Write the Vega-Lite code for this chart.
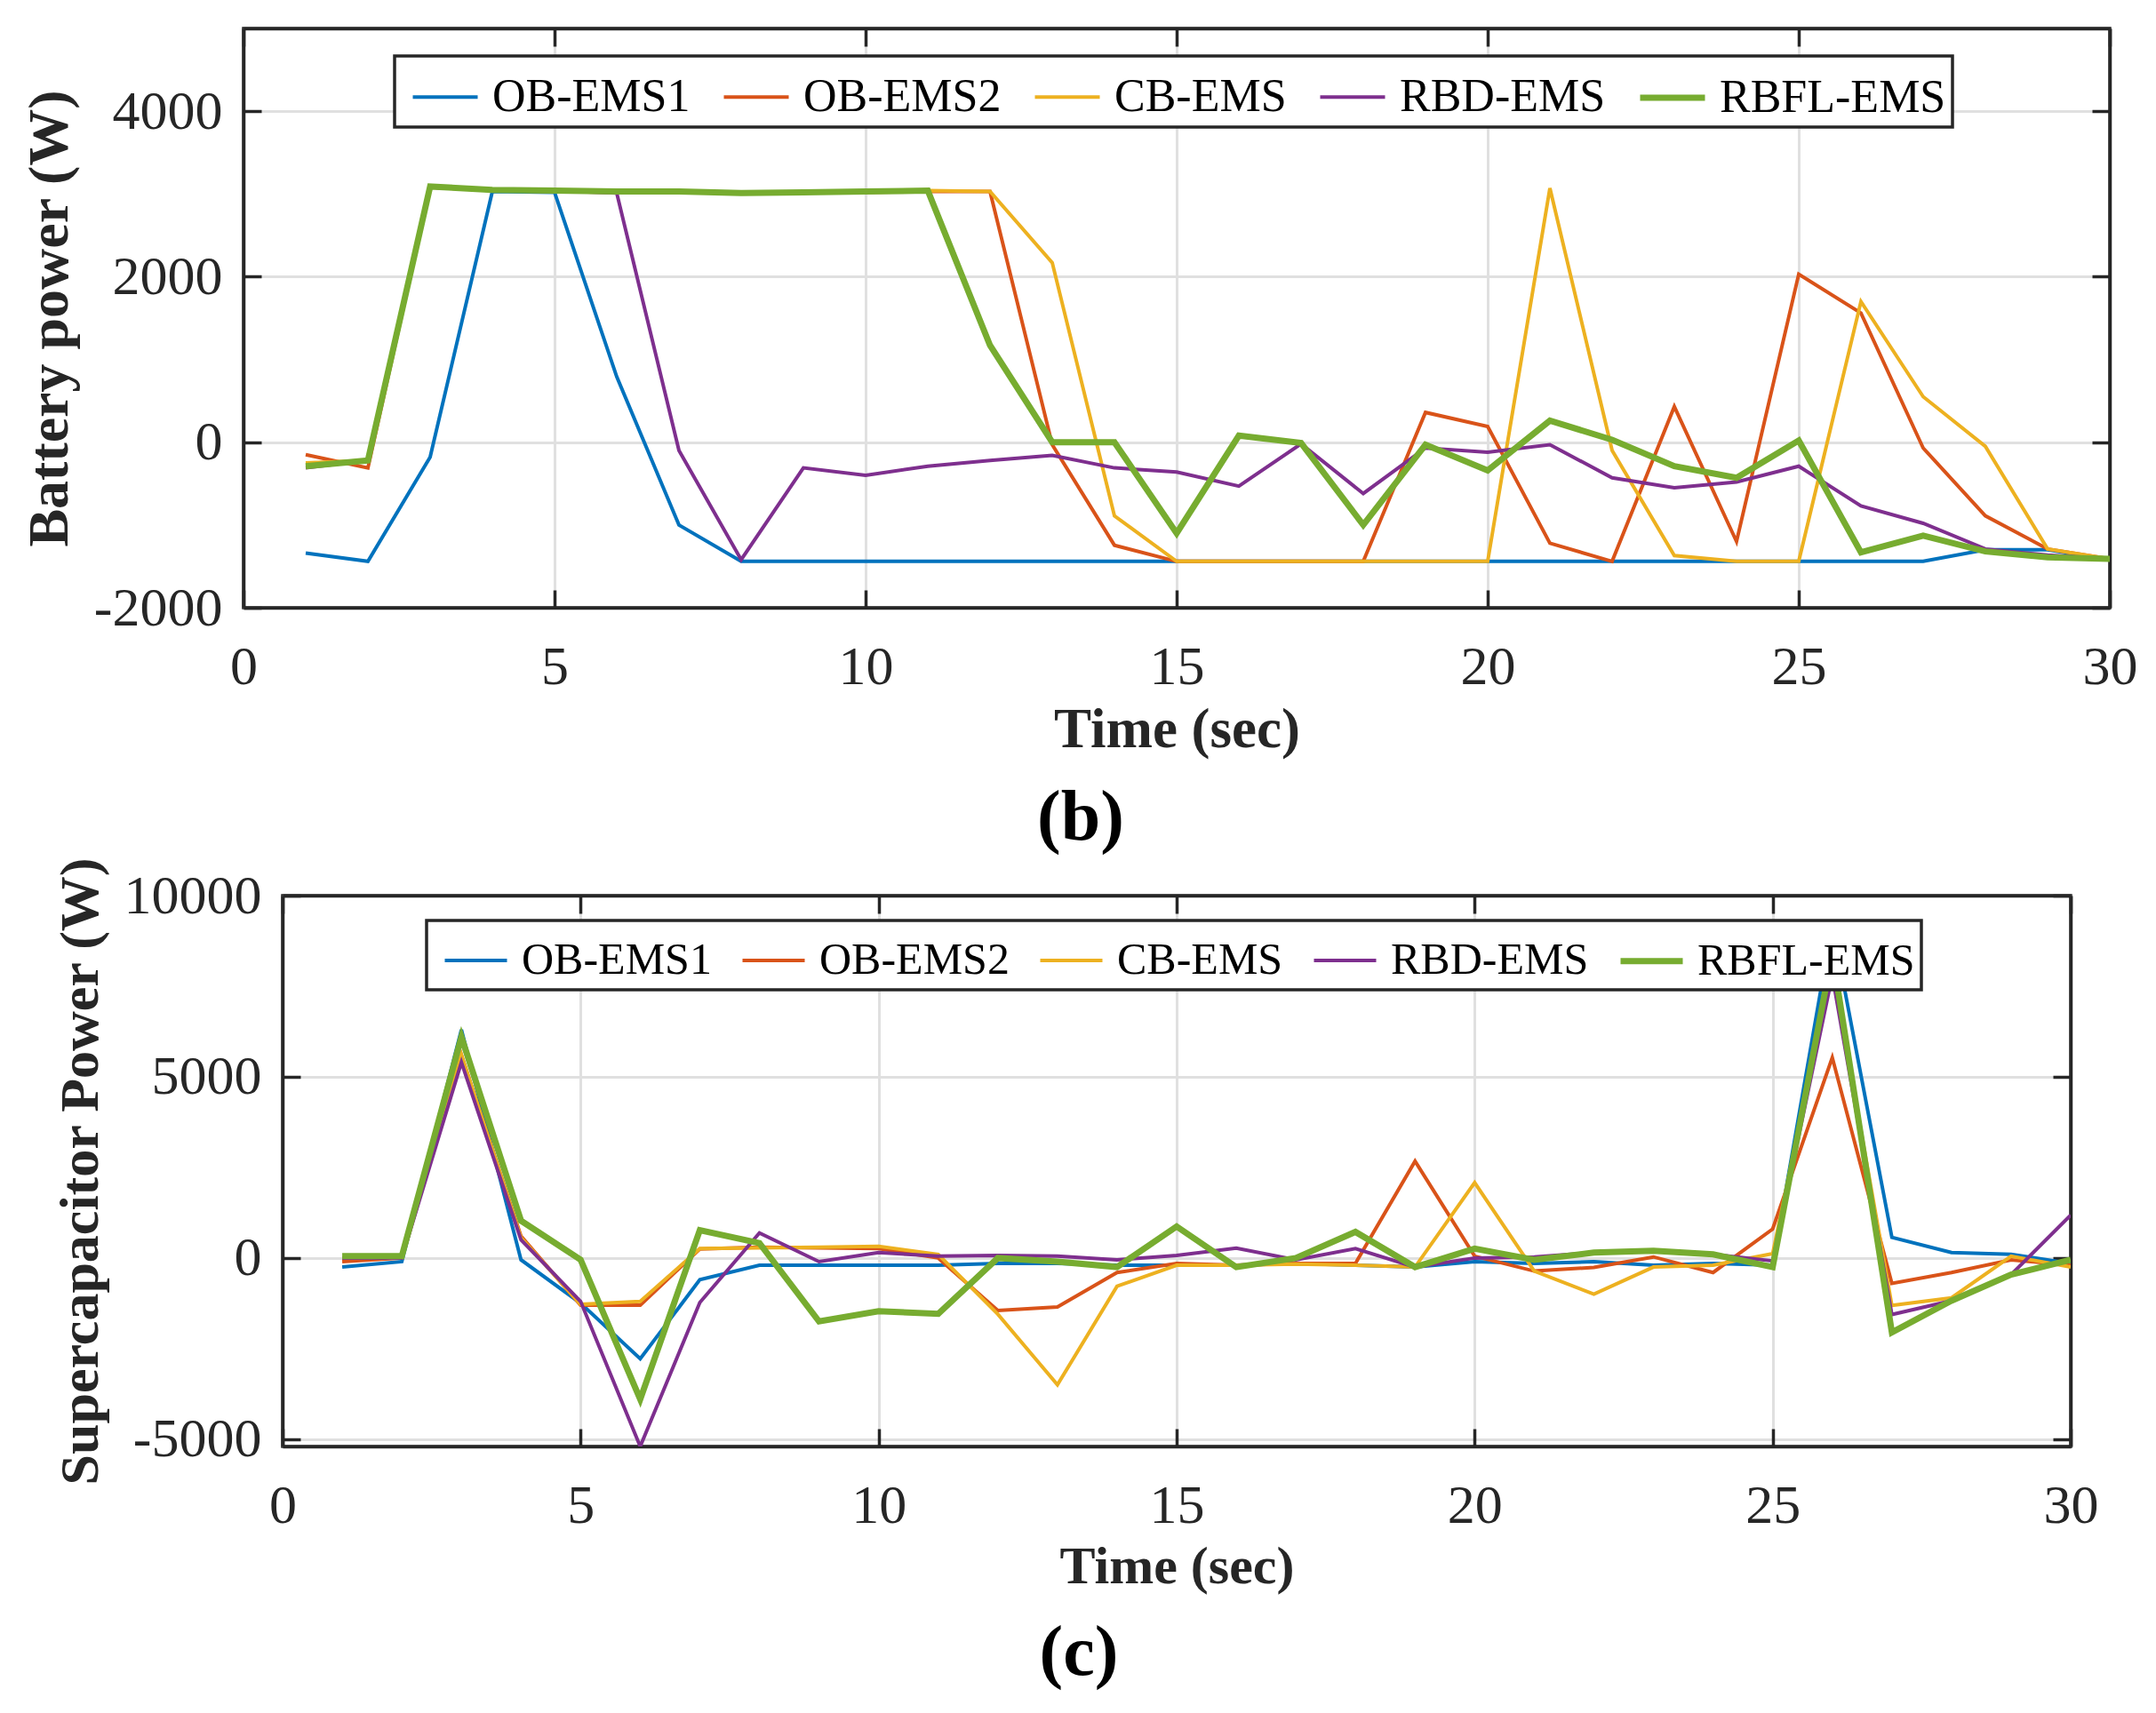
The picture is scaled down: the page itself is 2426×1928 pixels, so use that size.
{
  "$schema": "https://vega.github.io/schema/vega-lite/v6.json",
  "background": "white",
  "padding": {"left": 22, "top": 28, "right": 20, "bottom": 20},
  "config": {
    "font": "Liberation Serif",
    "view": {"stroke": "#262626", "strokeWidth": 3.5},
    "axis": {
      "domainColor": "#262626", "domainWidth": 3.5,
      "tickColor": "#262626", "tickWidth": 3.5, "tickSize": -20,
      "labelFont": "Liberation Serif", "labelFontSize": 62, "labelColor": "#262626",
      "labelOverlap": false, "labelFlush": false,
      "titleFont": "Liberation Serif", "titleFontWeight": "bold", "titleColor": "#262626",
      "gridColor": "#e0e0e0", "gridWidth": 3
    },
    "axisX": {"labelPadding": 56, "titlePadding": 9, "titleFontSize": 63, "labelFont": "Liberation Serif"},
    "axisY": {"labelPadding": 44, "titlePadding": 17, "labelFont": "Liberation Serif"},
    "legend": {
      "orient": "none", "direction": "horizontal", "columns": 5, "title": null,
      "labelFont": "Liberation Serif", "labelColor": "black", "labelLimit": 0,
      "symbolType": "stroke", "symbolSize": 5329, "symbolStrokeWidth": 4,
      "labelOffset": 13, "columnPadding": 24, "padding": 7, "symbolOffset": 10,
      "strokeColor": "#262626", "fillColor": "white", "zindex": 1
    }
  },
  "bounds": "flush",
  "center": true,
  "spacing": 324,
  "resolve": {"legend": {"color": "independent", "strokeWidth": "independent"}},
  "datasets": {
    "battery": [
      {"t":1,"s":"OB-EMS1","p":-1340},{"t":2,"s":"OB-EMS1","p":-1440},{"t":3,"s":"OB-EMS1","p":-180},{"t":4,"s":"OB-EMS1","p":3030},{"t":5,"s":"OB-EMS1","p":3020},
      {"t":6,"s":"OB-EMS1","p":790},{"t":7,"s":"OB-EMS1","p":-1000},{"t":8,"s":"OB-EMS1","p":-1440},{"t":9,"s":"OB-EMS1","p":-1440},{"t":10,"s":"OB-EMS1","p":-1440},
      {"t":11,"s":"OB-EMS1","p":-1440},{"t":12,"s":"OB-EMS1","p":-1440},{"t":13,"s":"OB-EMS1","p":-1440},{"t":14,"s":"OB-EMS1","p":-1440},{"t":15,"s":"OB-EMS1","p":-1440},
      {"t":16,"s":"OB-EMS1","p":-1440},{"t":17,"s":"OB-EMS1","p":-1440},{"t":18,"s":"OB-EMS1","p":-1440},{"t":19,"s":"OB-EMS1","p":-1440},{"t":20,"s":"OB-EMS1","p":-1440},
      {"t":21,"s":"OB-EMS1","p":-1440},{"t":22,"s":"OB-EMS1","p":-1440},{"t":23,"s":"OB-EMS1","p":-1440},{"t":24,"s":"OB-EMS1","p":-1440},{"t":25,"s":"OB-EMS1","p":-1440},
      {"t":26,"s":"OB-EMS1","p":-1440},{"t":27,"s":"OB-EMS1","p":-1440},{"t":28,"s":"OB-EMS1","p":-1300},{"t":29,"s":"OB-EMS1","p":-1300},{"t":30,"s":"OB-EMS1","p":-1420},

      {"t":1,"s":"OB-EMS2","p":-150},{"t":2,"s":"OB-EMS2","p":-310},{"t":3,"s":"OB-EMS2","p":3080},{"t":4,"s":"OB-EMS2","p":3040},{"t":5,"s":"OB-EMS2","p":3030},
      {"t":6,"s":"OB-EMS2","p":3020},{"t":7,"s":"OB-EMS2","p":3020},{"t":8,"s":"OB-EMS2","p":3010},{"t":9,"s":"OB-EMS2","p":3020},{"t":10,"s":"OB-EMS2","p":3020},
      {"t":11,"s":"OB-EMS2","p":3030},{"t":12,"s":"OB-EMS2","p":3030},{"t":13,"s":"OB-EMS2","p":-30},{"t":14,"s":"OB-EMS2","p":-1245},{"t":15,"s":"OB-EMS2","p":-1440},
      {"t":16,"s":"OB-EMS2","p":-1440},{"t":17,"s":"OB-EMS2","p":-1440},{"t":18,"s":"OB-EMS2","p":-1440},{"t":19,"s":"OB-EMS2","p":360},{"t":20,"s":"OB-EMS2","p":190},
      {"t":21,"s":"OB-EMS2","p":-1220},{"t":22,"s":"OB-EMS2","p":-1440},{"t":23,"s":"OB-EMS2","p":430},{"t":24,"s":"OB-EMS2","p":-1200},{"t":25,"s":"OB-EMS2","p":2030},
      {"t":26,"s":"OB-EMS2","p":1560},{"t":27,"s":"OB-EMS2","p":-70},{"t":28,"s":"OB-EMS2","p":-890},{"t":29,"s":"OB-EMS2","p":-1290},{"t":30,"s":"OB-EMS2","p":-1410},

      {"t":1,"s":"CB-EMS","p":-250},{"t":2,"s":"CB-EMS","p":-220},{"t":3,"s":"CB-EMS","p":3080},{"t":4,"s":"CB-EMS","p":3050},{"t":5,"s":"CB-EMS","p":3040},
      {"t":6,"s":"CB-EMS","p":3020},{"t":7,"s":"CB-EMS","p":3020},{"t":8,"s":"CB-EMS","p":3010},{"t":9,"s":"CB-EMS","p":3020},{"t":10,"s":"CB-EMS","p":3030},
      {"t":11,"s":"CB-EMS","p":3040},{"t":12,"s":"CB-EMS","p":3030},{"t":13,"s":"CB-EMS","p":2170},{"t":14,"s":"CB-EMS","p":-890},{"t":15,"s":"CB-EMS","p":-1440},
      {"t":16,"s":"CB-EMS","p":-1440},{"t":17,"s":"CB-EMS","p":-1440},{"t":18,"s":"CB-EMS","p":-1440},{"t":19,"s":"CB-EMS","p":-1440},{"t":20,"s":"CB-EMS","p":-1440},
      {"t":21,"s":"CB-EMS","p":3070},{"t":22,"s":"CB-EMS","p":-100},{"t":23,"s":"CB-EMS","p":-1370},{"t":24,"s":"CB-EMS","p":-1440},{"t":25,"s":"CB-EMS","p":-1440},
      {"t":26,"s":"CB-EMS","p":1700},{"t":27,"s":"CB-EMS","p":550},{"t":28,"s":"CB-EMS","p":-50},{"t":29,"s":"CB-EMS","p":-1290},{"t":30,"s":"CB-EMS","p":-1410},

      {"t":1,"s":"RBD-EMS","p":-310},{"t":2,"s":"RBD-EMS","p":-220},{"t":3,"s":"RBD-EMS","p":3080},{"t":4,"s":"RBD-EMS","p":3050},{"t":5,"s":"RBD-EMS","p":3040},
      {"t":6,"s":"RBD-EMS","p":3010},{"t":7,"s":"RBD-EMS","p":-100},{"t":8,"s":"RBD-EMS","p":-1420},{"t":9,"s":"RBD-EMS","p":-310},{"t":10,"s":"RBD-EMS","p":-400},
      {"t":11,"s":"RBD-EMS","p":-290},{"t":12,"s":"RBD-EMS","p":-220},{"t":13,"s":"RBD-EMS","p":-160},{"t":14,"s":"RBD-EMS","p":-310},{"t":15,"s":"RBD-EMS","p":-360},
      {"t":16,"s":"RBD-EMS","p":-530},{"t":17,"s":"RBD-EMS","p":-20},{"t":18,"s":"RBD-EMS","p":-620},{"t":19,"s":"RBD-EMS","p":-70},{"t":20,"s":"RBD-EMS","p":-120},
      {"t":21,"s":"RBD-EMS","p":-30},{"t":22,"s":"RBD-EMS","p":-430},{"t":23,"s":"RBD-EMS","p":-550},{"t":24,"s":"RBD-EMS","p":-480},{"t":25,"s":"RBD-EMS","p":-290},
      {"t":26,"s":"RBD-EMS","p":-770},{"t":27,"s":"RBD-EMS","p":-980},{"t":28,"s":"RBD-EMS","p":-1290},{"t":29,"s":"RBD-EMS","p":-1365},{"t":30,"s":"RBD-EMS","p":-1410},

      {"t":1,"s":"RBFL-EMS","p":-290},{"t":2,"s":"RBFL-EMS","p":-220},{"t":3,"s":"RBFL-EMS","p":3090},{"t":4,"s":"RBFL-EMS","p":3050},{"t":5,"s":"RBFL-EMS","p":3040},
      {"t":6,"s":"RBFL-EMS","p":3030},{"t":7,"s":"RBFL-EMS","p":3030},{"t":8,"s":"RBFL-EMS","p":3010},{"t":9,"s":"RBFL-EMS","p":3020},{"t":10,"s":"RBFL-EMS","p":3030},
      {"t":11,"s":"RBFL-EMS","p":3040},{"t":12,"s":"RBFL-EMS","p":1170},{"t":13,"s":"RBFL-EMS","p":0},{"t":14,"s":"RBFL-EMS","p":0},{"t":15,"s":"RBFL-EMS","p":-1100},
      {"t":16,"s":"RBFL-EMS","p":80},{"t":17,"s":"RBFL-EMS","p":-10},{"t":18,"s":"RBFL-EMS","p":-1000},{"t":19,"s":"RBFL-EMS","p":-30},{"t":20,"s":"RBFL-EMS","p":-340},
      {"t":21,"s":"RBFL-EMS","p":260},{"t":22,"s":"RBFL-EMS","p":30},{"t":23,"s":"RBFL-EMS","p":-290},{"t":24,"s":"RBFL-EMS","p":-430},{"t":25,"s":"RBFL-EMS","p":20},
      {"t":26,"s":"RBFL-EMS","p":-1330},{"t":27,"s":"RBFL-EMS","p":-1130},{"t":28,"s":"RBFL-EMS","p":-1320},{"t":29,"s":"RBFL-EMS","p":-1390},{"t":30,"s":"RBFL-EMS","p":-1410}
    ],
    "supercap": [
      {"t":1,"s":"OB-EMS1","p":-250},{"t":2,"s":"OB-EMS1","p":-100},{"t":3,"s":"OB-EMS1","p":6300},{"t":4,"s":"OB-EMS1","p":-50},{"t":5,"s":"OB-EMS1","p":-1250},
      {"t":6,"s":"OB-EMS1","p":-2780},{"t":7,"s":"OB-EMS1","p":-600},{"t":8,"s":"OB-EMS1","p":-200},{"t":9,"s":"OB-EMS1","p":-200},{"t":10,"s":"OB-EMS1","p":-200},
      {"t":11,"s":"OB-EMS1","p":-200},{"t":12,"s":"OB-EMS1","p":-150},{"t":13,"s":"OB-EMS1","p":-150},{"t":14,"s":"OB-EMS1","p":-200},{"t":15,"s":"OB-EMS1","p":-200},
      {"t":16,"s":"OB-EMS1","p":-200},{"t":17,"s":"OB-EMS1","p":-150},{"t":18,"s":"OB-EMS1","p":-200},{"t":19,"s":"OB-EMS1","p":-250},{"t":20,"s":"OB-EMS1","p":-100},
      {"t":21,"s":"OB-EMS1","p":-150},{"t":22,"s":"OB-EMS1","p":-100},{"t":23,"s":"OB-EMS1","p":-200},{"t":24,"s":"OB-EMS1","p":-150},{"t":25,"s":"OB-EMS1","p":-200},
      {"t":26,"s":"OB-EMS1","p":9200},{"t":27,"s":"OB-EMS1","p":570},{"t":28,"s":"OB-EMS1","p":150},{"t":29,"s":"OB-EMS1","p":100},{"t":30,"s":"OB-EMS1","p":-150},

      {"t":1,"s":"OB-EMS2","p":-100},{"t":2,"s":"OB-EMS2","p":0},{"t":3,"s":"OB-EMS2","p":5600},{"t":4,"s":"OB-EMS2","p":600},{"t":5,"s":"OB-EMS2","p":-1300},
      {"t":6,"s":"OB-EMS2","p":-1300},{"t":7,"s":"OB-EMS2","p":250},{"t":8,"s":"OB-EMS2","p":300},{"t":9,"s":"OB-EMS2","p":280},{"t":10,"s":"OB-EMS2","p":260},
      {"t":11,"s":"OB-EMS2","p":0},{"t":12,"s":"OB-EMS2","p":-1450},{"t":13,"s":"OB-EMS2","p":-1350},{"t":14,"s":"OB-EMS2","p":-400},{"t":15,"s":"OB-EMS2","p":-150},
      {"t":16,"s":"OB-EMS2","p":-200},{"t":17,"s":"OB-EMS2","p":-150},{"t":18,"s":"OB-EMS2","p":-150},{"t":19,"s":"OB-EMS2","p":2670},{"t":20,"s":"OB-EMS2","p":50},
      {"t":21,"s":"OB-EMS2","p":-360},{"t":22,"s":"OB-EMS2","p":-260},{"t":23,"s":"OB-EMS2","p":30},{"t":24,"s":"OB-EMS2","p":-400},{"t":25,"s":"OB-EMS2","p":800},
      {"t":26,"s":"OB-EMS2","p":5530},{"t":27,"s":"OB-EMS2","p":-700},{"t":28,"s":"OB-EMS2","p":-400},{"t":29,"s":"OB-EMS2","p":-50},{"t":30,"s":"OB-EMS2","p":-200},

      {"t":1,"s":"CB-EMS","p":0},{"t":2,"s":"CB-EMS","p":0},{"t":3,"s":"CB-EMS","p":5600},{"t":4,"s":"CB-EMS","p":560},{"t":5,"s":"CB-EMS","p":-1280},
      {"t":6,"s":"CB-EMS","p":-1200},{"t":7,"s":"CB-EMS","p":260},{"t":8,"s":"CB-EMS","p":280},{"t":9,"s":"CB-EMS","p":300},{"t":10,"s":"CB-EMS","p":320},
      {"t":11,"s":"CB-EMS","p":100},{"t":12,"s":"CB-EMS","p":-1550},{"t":13,"s":"CB-EMS","p":-3500},{"t":14,"s":"CB-EMS","p":-780},{"t":15,"s":"CB-EMS","p":-200},
      {"t":16,"s":"CB-EMS","p":-200},{"t":17,"s":"CB-EMS","p":-170},{"t":18,"s":"CB-EMS","p":-200},{"t":19,"s":"CB-EMS","p":-250},{"t":20,"s":"CB-EMS","p":2080},
      {"t":21,"s":"CB-EMS","p":-360},{"t":22,"s":"CB-EMS","p":-1000},{"t":23,"s":"CB-EMS","p":-250},{"t":24,"s":"CB-EMS","p":-200},{"t":25,"s":"CB-EMS","p":120},
      {"t":26,"s":"CB-EMS","p":8000},{"t":27,"s":"CB-EMS","p":-1310},{"t":28,"s":"CB-EMS","p":-1100},{"t":29,"s":"CB-EMS","p":50},{"t":30,"s":"CB-EMS","p":-250},

      {"t":1,"s":"RBD-EMS","p":0},{"t":2,"s":"RBD-EMS","p":0},{"t":3,"s":"RBD-EMS","p":5400},{"t":4,"s":"RBD-EMS","p":500},{"t":5,"s":"RBD-EMS","p":-1200},
      {"t":6,"s":"RBD-EMS","p":-5200},{"t":7,"s":"RBD-EMS","p":-1230},{"t":8,"s":"RBD-EMS","p":690},{"t":9,"s":"RBD-EMS","p":-100},{"t":10,"s":"RBD-EMS","p":150},
      {"t":11,"s":"RBD-EMS","p":50},{"t":12,"s":"RBD-EMS","p":70},{"t":13,"s":"RBD-EMS","p":50},{"t":14,"s":"RBD-EMS","p":-50},{"t":15,"s":"RBD-EMS","p":70},
      {"t":16,"s":"RBD-EMS","p":270},{"t":17,"s":"RBD-EMS","p":-50},{"t":18,"s":"RBD-EMS","p":260},{"t":19,"s":"RBD-EMS","p":-250},{"t":20,"s":"RBD-EMS","p":0},
      {"t":21,"s":"RBD-EMS","p":30},{"t":22,"s":"RBD-EMS","p":150},{"t":23,"s":"RBD-EMS","p":200},{"t":24,"s":"RBD-EMS","p":100},{"t":25,"s":"RBD-EMS","p":-80},
      {"t":26,"s":"RBD-EMS","p":7800},{"t":27,"s":"RBD-EMS","p":-1560},{"t":28,"s":"RBD-EMS","p":-1180},{"t":29,"s":"RBD-EMS","p":-460},{"t":30,"s":"RBD-EMS","p":1180},

      {"t":1,"s":"RBFL-EMS","p":50},{"t":2,"s":"RBFL-EMS","p":50},{"t":3,"s":"RBFL-EMS","p":6100},{"t":4,"s":"RBFL-EMS","p":1030},{"t":5,"s":"RBFL-EMS","p":-50},
      {"t":6,"s":"RBFL-EMS","p":-3900},{"t":7,"s":"RBFL-EMS","p":770},{"t":8,"s":"RBFL-EMS","p":410},{"t":9,"s":"RBFL-EMS","p":-1750},{"t":10,"s":"RBFL-EMS","p":-1470},
      {"t":11,"s":"RBFL-EMS","p":-1540},{"t":12,"s":"RBFL-EMS","p":0},{"t":13,"s":"RBFL-EMS","p":-100},{"t":14,"s":"RBFL-EMS","p":-250},{"t":15,"s":"RBFL-EMS","p":870},
      {"t":16,"s":"RBFL-EMS","p":-250},{"t":17,"s":"RBFL-EMS","p":0},{"t":18,"s":"RBFL-EMS","p":720},{"t":19,"s":"RBFL-EMS","p":-250},{"t":20,"s":"RBFL-EMS","p":260},
      {"t":21,"s":"RBFL-EMS","p":-50},{"t":22,"s":"RBFL-EMS","p":150},{"t":23,"s":"RBFL-EMS","p":200},{"t":24,"s":"RBFL-EMS","p":100},{"t":25,"s":"RBFL-EMS","p":-250},
      {"t":26,"s":"RBFL-EMS","p":8400},{"t":27,"s":"RBFL-EMS","p":-2050},{"t":28,"s":"RBFL-EMS","p":-1180},{"t":29,"s":"RBFL-EMS","p":-460},{"t":30,"s":"RBFL-EMS","p":-50}
    ]
  },
  "vconcat": [
    {
      "width": 2100,
      "height": 652,
      "data": {"name": "battery"},
      "title": {"text": "(b)", "orient": "bottom", "anchor": "middle", "baseline": "top", "offset": 29, "dx": -108, "font": "Liberation Serif", "fontSize": 80, "fontWeight": "bold", "color": "black"},
      "layer": [
        {
          "mark": {"type": "line", "clip": true},
          "encoding": {
            "x": {"field": "t", "type": "quantitative", "scale": {"domain": [0, 30], "nice": false},
                  "axis": {"values": [0, 5, 10, 15, 20, 25, 30], "title": "Time (sec)", "grid": true, "labelFont": "Liberation Serif"}},
            "y": {"field": "p", "type": "quantitative", "scale": {"domain": [-2000, 5000], "nice": false, "zero": false},
                  "axis": {"values": [-2000, 0, 2000, 4000], "title": "Battery power (W)", "titleFontSize": 64, "grid": true, "labelFont": "Liberation Serif",
                           "labelExpr": "datum.value < 0 ? '-' + format(-datum.value, 'd') : format(datum.value, 'd')"}},
            "color": {"field": "s", "type": "nominal",
                      "scale": {"domain": ["OB-EMS1", "OB-EMS2", "CB-EMS", "RBD-EMS", "RBFL-EMS"], "range": ["#0072BD", "#D95319", "#EDB120", "#7E2F8E", "#77AC30"]},
                      "legend": {"legendX": 170, "legendY": 31, "labelFontSize": 52, "encode": {"legend": {"update": {"strokeWidth": {"value": 3.5}}}}}},
            "strokeWidth": {"field": "s", "type": "nominal",
                      "scale": {"type": "ordinal", "domain": ["OB-EMS1", "OB-EMS2", "CB-EMS", "RBD-EMS", "RBFL-EMS"], "range": [4, 4, 4, 4, 7]},
                      "legend": {"legendX": 170, "legendY": 31, "labelFontSize": 52, "encode": {"legend": {"update": {"strokeWidth": {"value": 3.5}}}}}}
          }
        },
        {
          "mark": {"type": "line", "opacity": 0},
          "encoding": {
            "x": {"field": "t", "type": "quantitative", "axis": {"orient": "top", "values": [0, 5, 10, 15, 20, 25, 30], "labels": false, "grid": false, "title": null}},
            "y": {"field": "p", "type": "quantitative", "axis": {"orient": "right", "values": [-2000, 0, 2000, 4000], "labels": false, "grid": false, "title": null}}
          }
        }
      ],
      "resolve": {"axis": {"x": "independent", "y": "independent"}}
    },
    {
      "width": 2012,
      "height": 620,
      "data": {"name": "supercap"},
      "title": {"text": "(c)", "orient": "bottom", "anchor": "middle", "baseline": "top", "offset": 29, "dx": -110, "font": "Liberation Serif", "fontSize": 80, "fontWeight": "bold", "color": "black"},
      "layer": [
        {
          "mark": {"type": "line", "clip": true},
          "encoding": {
            "x": {"field": "t", "type": "quantitative", "scale": {"domain": [0, 30], "nice": false},
                  "axis": {"values": [0, 5, 10, 15, 20, 25, 30], "title": "Time (sec)", "titleFontSize": 60, "grid": true, "labelFont": "Liberation Serif"}},
            "y": {"field": "p", "type": "quantitative", "scale": {"domain": [-5200, 10000], "nice": false, "zero": false},
                  "axis": {"values": [-5000, 0, 5000, 10000], "title": "Supercapacitor Power (W)", "titleFontSize": 62, "grid": true, "labelFont": "Liberation Serif",
                           "labelExpr": "datum.value < 0 ? '-' + format(-datum.value, 'd') : format(datum.value, 'd')"}},
            "color": {"field": "s", "type": "nominal",
                      "scale": {"domain": ["OB-EMS1", "OB-EMS2", "CB-EMS", "RBD-EMS", "RBFL-EMS"], "range": ["#0072BD", "#D95319", "#EDB120", "#7E2F8E", "#77AC30"]},
                      "legend": {"legendX": 162, "legendY": 28, "labelFontSize": 50, "symbolSize": 4900, "columnPadding": 21, "encode": {"legend": {"update": {"strokeWidth": {"value": 3.5}}}}}},
            "strokeWidth": {"field": "s", "type": "nominal",
                      "scale": {"type": "ordinal", "domain": ["OB-EMS1", "OB-EMS2", "CB-EMS", "RBD-EMS", "RBFL-EMS"], "range": [4, 4, 4, 4, 7]},
                      "legend": {"legendX": 162, "legendY": 28, "labelFontSize": 50, "symbolSize": 4900, "columnPadding": 21, "encode": {"legend": {"update": {"strokeWidth": {"value": 3.5}}}}}}
          }
        },
        {
          "mark": {"type": "line", "opacity": 0},
          "encoding": {
            "x": {"field": "t", "type": "quantitative", "axis": {"orient": "top", "values": [0, 5, 10, 15, 20, 25, 30], "labels": false, "grid": false, "title": null}},
            "y": {"field": "p", "type": "quantitative", "axis": {"orient": "right", "values": [-5000, 0, 5000, 10000], "labels": false, "grid": false, "title": null}}
          }
        }
      ],
      "resolve": {"axis": {"x": "independent", "y": "independent"}}
    }
  ]
}
